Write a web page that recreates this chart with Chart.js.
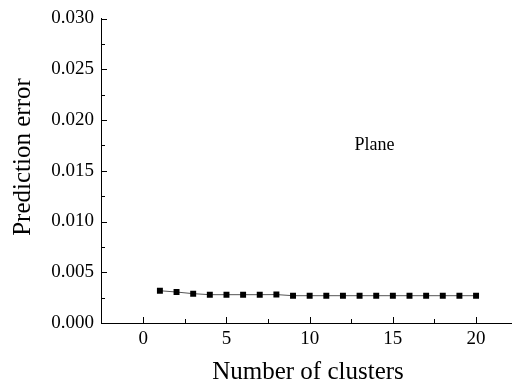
<!DOCTYPE html>
<html>
<head>
<meta charset="utf-8">
<script src="https://cdn.jsdelivr.net/npm/chart.js@4/dist/chart.umd.min.js"></script>
<style>
  html, body { margin: 0; padding: 0; background: #fff; }
  #wrap { width: 512px; height: 388px; }
</style>
</head>
<body>
<div id="wrap"><canvas id="errChart" width="512" height="388"></canvas></div>
<script>
// nilai
const clusters = [1, 2, 3, 4, 5, 6, 7, 8, 9, 10, 11, 12, 13, 14, 15, 16, 17, 18, 19, 20];
const predError = [0.00318, 0.00305, 0.00289, 0.00279, 0.00279, 0.00279, 0.00279, 0.00280,
                   0.00269, 0.00269, 0.00269, 0.00269, 0.00269, 0.00269, 0.00269, 0.00269,
                   0.00269, 0.00269, 0.00269, 0.00269];
const xTicks = [0, 5, 10, 15, 20];
const yTicks = [0.000, 0.005, 0.010, 0.015, 0.020, 0.025, 0.030];
const seriesName = 'Plane';
const xTitle = 'Number of clusters';
const yTitle = 'Prediction error';
const labelAt = { x: 13.9, y: 0.0175 };

const serif = "Liberation Serif";
Chart.defaults.font.family = serif;
Chart.defaults.color = '#000';

// tick ke dalam (mayor/minor), label seri, dan judul sumbu
const inwardTicks = {
    id: 'inwardTicks',
    afterDraw(chart) {
        const ctx = chart.ctx;
        const xs = chart.scales.x, ys = chart.scales.y;
        const area = chart.chartArea;
        ctx.save();
        ctx.strokeStyle = '#000';
        ctx.lineWidth = 1;
        ctx.beginPath();
        for (let v = 0; v <= xs.max; v += 2.5) {
            if (v < xs.min) continue;
            const px = Math.round(xs.getPixelForValue(v)) + 0.5;
            const len = (v % 5 === 0) ? 6 : 4;
            ctx.moveTo(px, area.bottom);
            ctx.lineTo(px, area.bottom - len);
        }
        for (let i = 0; i <= 12; i++) {
            const v = i * 0.0025;
            const py = Math.round(ys.getPixelForValue(v)) + 0.5;
            const len = (i % 2 === 0) ? 6 : 4;
            ctx.moveTo(area.left, py);
            ctx.lineTo(area.left + len, py);
        }
        ctx.stroke();

        ctx.fillStyle = '#000';
        ctx.textAlign = 'center';
        ctx.textBaseline = 'middle';
        ctx.font = '18px ' + serif;
        ctx.fillText(seriesName, xs.getPixelForValue(labelAt.x), ys.getPixelForValue(labelAt.y));

        ctx.font = '25px ' + serif;
        ctx.fillText(xTitle, 308, 372);
        ctx.translate(23, 157);
        ctx.rotate(-Math.PI / 2);
        ctx.fillText(yTitle, 0, 0);
        ctx.restore();
    }
};

new Chart(document.getElementById('errChart'), {
    type: 'line',
    data: {
        datasets: [{
            label: seriesName,
            data: clusters.map((c, i) => ({ x: c, y: predError[i] })),
            borderColor: '#555',
            borderWidth: 1,
            pointStyle: 'rect',
            pointRadius: 4.2,
            pointBackgroundColor: '#000',
            pointBorderColor: '#000',
            pointBorderWidth: 0,
            tension: 0
        }]
    },
    options: {
        responsive: false,
        animation: false,
        layout: { autoPadding: false, padding: { top: 18.5, right: 0, left: 0, bottom: 0 } },
        plugins: { legend: { display: false }, tooltip: { enabled: false } },
        scales: {
            x: {
                type: 'linear',
                min: -2.54,
                max: 22.16,
                afterBuildTicks: (scale) => { scale.ticks = xTicks.map(v => ({ value: v })); },
                afterFit: (scale) => { scale.height = 65; scale.paddingLeft = 0; scale.paddingRight = 0; },
                grid: { display: false, drawTicks: false },
                border: { display: true, color: '#000', width: 1 },
                ticks: {
                    color: '#000',
                    font: { family: serif, size: 19 },
                    padding: 5,
                    maxRotation: 0,
                    callback: (v) => String(v)
                }
            },
            y: {
                min: 0,
                max: 0.03,
                afterBuildTicks: (scale) => { scale.ticks = yTicks.map(v => ({ value: v })); },
                afterFit: (scale) => { scale.width = 101; },
                grid: { display: false, drawTicks: false },
                border: { display: true, color: '#000', width: 1 },
                ticks: {
                    color: '#000',
                    font: { family: serif, size: 19 },
                    padding: 7,
                    callback: (v) => v.toFixed(3)
                }
            }
        }
    },
    plugins: [inwardTicks]
});
</script>
</body>
</html>
